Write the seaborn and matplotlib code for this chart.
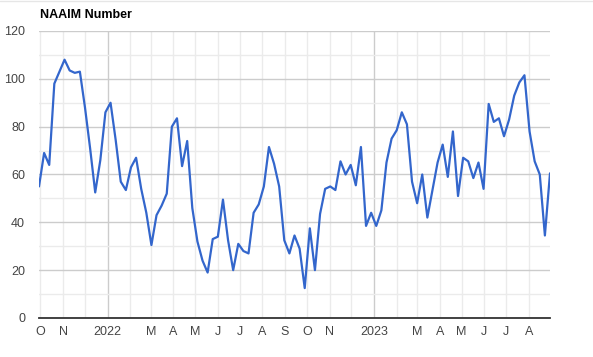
import matplotlib
matplotlib.use("Agg")
import matplotlib.pyplot as plt
import matplotlib.dates as mdates
from matplotlib.lines import Line2D
import numpy as np
import pandas as pd
import seaborn as sns

# ---- data ----
title = "NAAIM Number"
start_date = "2021-09-29"   # weekly readings (Wednesdays)
naaim = [55, 69, 64, 98, 103, 108, 103.5, 102.5, 103, 88,
         71, 52.5, 66, 86, 90, 74.5, 57, 53.5, 63, 67,
         54, 44, 30.5, 43, 47, 52, 80, 83.5, 63.5, 74,
         46, 32, 24, 19, 33, 34, 49.5, 32.5, 20, 31,
         28, 27, 44, 47.5, 55, 71.5, 64.5, 55, 32.5, 27,
         34.5, 29, 12.5, 37.5, 20, 43.5, 54, 55, 53.5, 65.5,
         60, 64, 55.5, 71.5, 38.5, 44, 38.5, 45, 65, 75,
         78.5, 86, 81, 57, 48, 60, 42, 53.5, 65, 72.5,
         59, 78, 51, 67, 65.5, 58.5, 65, 54, 89.5, 82,
         83.5, 76, 83, 93, 98.5, 101.5, 78, 65.5, 60, 34.5, 60.5]
month_ticks = pd.date_range("2021-10-01", "2023-08-01", freq="MS")
month_labels = ["O", "N", "", "2022", "", "M", "A", "M", "J", "J", "A", "S",
                "O", "N", "", "2023", "", "M", "A", "M", "J", "J", "A"]
y_ticks = [0, 20, 40, 60, 80, 100, 120]

df = pd.DataFrame({
    "date": pd.date_range(start_date, periods=len(naaim), freq="7D"),
    "value": naaim,
})

sns.set_theme(style="white")
plt.rcParams["font.family"] = ["Liberation Sans", "DejaVu Sans"]

fig = plt.figure(figsize=(5.93, 3.57), dpi=100)
ax = fig.add_axes([39 / 593, 39 / 357, 511 / 593, 287 / 357])

sns.lineplot(data=df, x="date", y="value", ax=ax, color="#3366cc",
             linewidth=1.6, zorder=3)

ax.set_xlim(df["date"].iloc[0], df["date"].iloc[-1])
ax.set_ylim(0, 120)

# y grid
ax.set_yticks(y_ticks)
ax.set_yticks(np.arange(10, 120, 20), minor=True)
ax.grid(axis="y", which="major", color="#cccccc", linewidth=1.0, zorder=0)
ax.grid(axis="y", which="minor", color="#ebebeb", linewidth=1.0, zorder=0)

# x grid: all month starts, darker at year start
ax.set_xticks(month_ticks)
ax.set_xticklabels(month_labels)
ax.grid(axis="x", which="major", color="#ebebeb", linewidth=1.0, zorder=0)
for gl, d in zip(ax.get_xgridlines(), month_ticks):
    if d.month == 1:
        gl.set_color("#cccccc")

ax.tick_params(axis="both", which="both", length=0, labelsize=9,
               labelcolor="#444444")
ax.tick_params(axis="y", pad=10)
ax.tick_params(axis="x", pad=6)

for s in ["top", "right", "left"]:
    ax.spines[s].set_visible(False)
ax.spines["bottom"].set_color("#333333")
ax.spines["bottom"].set_linewidth(1.3)
ax.spines["bottom"].set_zorder(4)

ax.set_xlabel("")
ax.set_ylabel("")

fig.text(40 / 593, 1 - 15 / 357, title, fontsize=9, fontweight="bold",
         color="#000000", ha="left", va="center")
fig.add_artist(Line2D([0, 1], [0.998, 0.998], color="#e6e6e6", lw=1,
                      transform=fig.transFigure))

fig.savefig("out.png", dpi=100, facecolor="white")
